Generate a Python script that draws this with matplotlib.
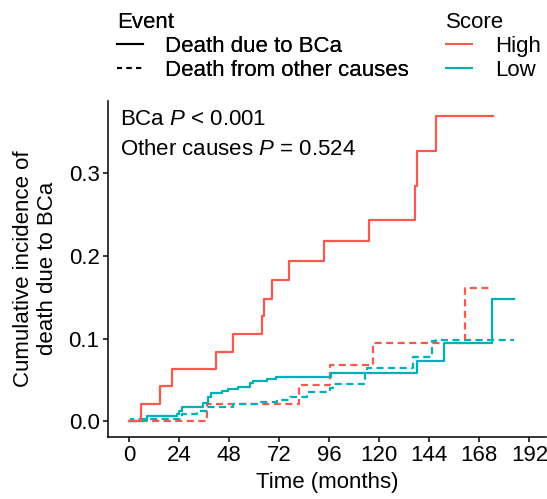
"""Cumulative incidence of death by cause, split by risk score."""

import matplotlib.pyplot as plt
from matplotlib.lines import Line2D

RED = "#F9584E"
TEAL = "#00B0B9"

# High score, death due to BCa
HIGH_BCA_T = [0, 5.4, 14.7, 20.6, 41.4, 49.6, 63.7, 64.5, 68.3, 76.6, 93.3, 115.2, 137.1, 137.9, 147.2, 174.7]
HIGH_BCA_Y = [0, 0.021, 0.043, 0.063, 0.084, 0.105, 0.127, 0.148, 0.171, 0.193, 0.217, 0.243, 0.284, 0.326, 0.368, 0.368]

# Low score, death due to BCa
LOW_BCA_T = [0, 6.7, 8.3, 22.7, 23.8, 25.4, 35.5, 37.6, 39.2, 44.6, 47.5, 52.3, 57.9, 59.5, 65.9, 70.2,
             96.8, 138.2, 151.0, 174.2, 184.8]
LOW_BCA_Y = [0, 0.002, 0.006, 0.009, 0.013, 0.017, 0.022, 0.030, 0.034, 0.037, 0.039, 0.042, 0.046, 0.049, 0.051, 0.054,
             0.058, 0.073, 0.094, 0.148, 0.148]

# High score, death from other causes
HIGH_OTH_T = [0, 37.4, 81.4, 96.3, 117.1, 161.1, 174.7]
HIGH_OTH_Y = [0, 0.021, 0.044, 0.068, 0.094, 0.161, 0.161]

# Low score, death from other causes
LOW_OTH_T = [0, 0.6, 25.1, 32.3, 37.1, 49.6, 61.1, 70.7, 77.1, 85.1, 96.3, 97.9, 113.1, 113.9, 136.3, 145.4, 147.0, 184.8]
LOW_OTH_Y = [0, 0.003, 0.009, 0.013, 0.017, 0.021, 0.024, 0.026, 0.030, 0.036, 0.040, 0.045, 0.058, 0.064, 0.078, 0.097,
             0.098, 0.098]

X_TICKS = [0, 24, 48, 72, 96, 120, 144, 168, 192]
Y_TICKS = [0.0, 0.1, 0.2, 0.3]

FS = 16
LW = 1.6
DASH = (3.2, 2.0)

plt.rcParams["font.family"] = ["Liberation Sans", "DejaVu Sans"]
plt.rcParams["mathtext.fontset"] = "custom"
plt.rcParams["mathtext.rm"] = "Liberation Sans"
plt.rcParams["mathtext.it"] = "Liberation Sans:italic"

fig = plt.figure(figsize=(5.47, 4.99), dpi=100)
W, H = 547, 499
left, right, bottom, top = 108.3, 546.0, 436.7, 101.0
ax = fig.add_axes([left / W, 1 - bottom / H, (right - left) / W, (bottom - top) / H])

ax.step(HIGH_OTH_T, HIGH_OTH_Y, where="post", color=RED, lw=LW, dashes=DASH)
ax.step(LOW_OTH_T, LOW_OTH_Y, where="post", color=TEAL, lw=LW, dashes=DASH)
ax.step(LOW_BCA_T, LOW_BCA_Y, where="post", color=TEAL, lw=LW)
ax.step(HIGH_BCA_T, HIGH_BCA_Y, where="post", color=RED, lw=LW)

ax.set_xlim(-10.1, 200.0)
ax.set_ylim(-0.0184, 0.3864)
ax.set_xticks(X_TICKS)
ax.set_yticks(Y_TICKS)
ax.set_yticklabels([f"{v:.1f}" for v in Y_TICKS])
ax.tick_params(labelsize=FS, length=3.8, width=1.1, color="black", labelcolor="black", pad=2.5)
for side in ("top", "right"):
    ax.spines[side].set_visible(False)
for side in ("left", "bottom"):
    ax.spines[side].set_linewidth(1.1)
    ax.spines[side].set_color("black")

ax.set_xlabel("Time (months)", fontsize=FS, labelpad=4)
ax.set_ylabel("Cumulative incidence of\ndeath due to BCa", fontsize=FS, linespacing=1.2)
ax.yaxis.set_label_coords(-0.115, 0.5)

ax.text(0.027, 0.945, r"BCa $\it{P}$ < 0.001", transform=ax.transAxes, fontsize=FS, va="center", ha="left")
ax.text(0.027, 0.855, r"Other causes $\it{P}$ = 0.524", transform=ax.transAxes, fontsize=FS, va="center", ha="left")

event_handles = [
    Line2D([], [], color="black", lw=1.5),
    Line2D([], [], color="black", lw=1.5, dashes=(2.4, 2.2)),
]
leg1 = fig.legend(event_handles, ["Death due to BCa", "Death from other causes"], title="Event",
                  loc="upper left", bbox_to_anchor=(117 / W, 1 - 12 / H), frameon=False,
                  fontsize=FS, title_fontsize=FS, alignment="left", handlelength=1.17,
                  handletextpad=1.0, labelspacing=0.13, borderpad=0, borderaxespad=0)
fig.add_artist(leg1)

score_handles = [
    Line2D([], [], color=RED, lw=1.5),
    Line2D([], [], color=TEAL, lw=1.5),
]
fig.legend(score_handles, ["High", "Low"], title="Score",
           loc="upper left", bbox_to_anchor=(446 / W, 1 - 12 / H), frameon=False,
           fontsize=FS, title_fontsize=FS, alignment="left", handlelength=1.17,
           handletextpad=1.04, labelspacing=0.13, borderpad=0, borderaxespad=0)

fig.savefig("out.png", dpi=100)
